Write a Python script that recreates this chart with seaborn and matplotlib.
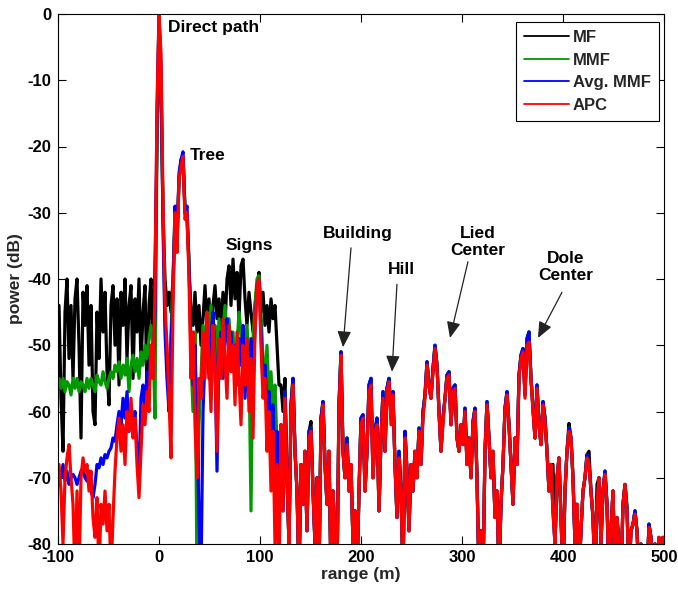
import numpy as np
import pandas as pd
import matplotlib
matplotlib.use("Agg")
import matplotlib.pyplot as plt
from matplotlib.lines import Line2D
import seaborn as sns

# ---------------- data ----------------
series_names = ["MF", "MMF", "Avg. MMF", "APC"]
series_colors = ["#000000", "#009900", "#0000ff", "#ff0000"]

# near region, range about -99 .. 119 m (111 samples)
mf_near = [
    -44, -58, -66, -45, -40, -52, -44, -55, -43, -40,
    -50, -64, -42, -47, -41, -53, -44, -60, -62, -45,
    -52, -40, -48, -42, -54, -59, -44, -41, -50, -43,
    -56, -42, -47, -40, -52, -44, -41, -55, -43, -48,
    -40, -53, -45, -41, -57, -44, -40, -52, -38, -20,
    -0.5, -12, -30, -40, -44, -42, -45, -40, -31, -34,
    -25, -22, -21.5, -30, -31, -38, -45, -47, -42, -48,
    -44, -50, -46, -41, -47, -43, -49, -44, -41, -46,
    -43, -48, -42, -47, -40, -38, -44, -37, -43, -39,
    -46, -38, -37, -43, -47, -42, -45, -48, -44, -41,
    -39, -45, -42, -47, -44, -48, -43, -46, -44, -50,
    -56,
]
mmf_near = [
    -55, -56.5, -55, -57, -55.5, -56, -57.5, -55, -56.5, -55,
    -57, -55.5, -56, -57, -55, -56.5, -55, -56, -57, -54.5,
    -55.5, -56, -54, -55.5, -56.5, -55, -54, -55, -53, -54,
    -52.5, -55, -53, -54.5, -52, -57, -53, -51.5, -54, -52,
    -55, -51, -53, -50, -52, -49, -47, -50, -61, -18,
    -0.3, -10, -30, -46, -52, -58, -48, -40, -30, -34,
    -25, -22.5, -21.5, -29, -30, -37, -52, -60, -48, -85,
    -62, -55, -47, -52, -45, -49, -44, -50, -47, -53,
    -46, -51, -48, -44, -49, -46, -51, -48, -53, -50,
    -45, -48, -56, -50, -47, -52, -75, -49, -44, -40,
    -39.5, -45, -52, -55, -50, -58, -54, -60, -56, -65,
    -70,
]
avg_near = [
    -69, -70, -68, -70.5, -69, -71, -70, -69.5, -70, -71,
    -70, -69, -68.5, -70, -70.5, -69, -72, -73, -71, -68,
    -68.5, -67, -68, -66.5, -67, -66, -65.5, -64, -64.5, -62,
    -60, -62, -58, -61, -57, -63, -59, -62, -60, -66,
    -70, -58, -56, -60, -54, -57, -50, -54, -45, -15,
    -0.2, -8, -32, -48, -55, -60, -50, -42, -29, -35,
    -24, -22, -20.8, -30, -29, -38, -50, -56, -50, -62,
    -76, -85, -60, -52, -47, -55, -49, -45, -52, -69,
    -51, -48, -55, -49, -46, -52, -48, -54, -50, -56,
    -49, -53, -47, -58, -51, -55, -49, -53, -48, -41,
    -40, -48, -56, -53, -60, -57, -64, -59, -70, -63,
    -78,
]
apc_near = [
    -68, -72, -80, -70, -67, -65, -70, -74, -85, -72,
    -85, -70, -67, -69, -68, -72, -69, -76, -79, -73,
    -85, -74, -77, -72, -78, -74, -85, -76, -69, -64,
    -61, -66, -62, -68, -60, -63, -58, -64, -61, -68,
    -73, -66, -59, -62, -57, -60, -50, -55, -42, -14,
    0, -6, -28, -44, -50, -58, -67, -44, -30, -36,
    -25, -23, -21.5, -31, -30, -40, -55, -48, -62, -70,
    -55, -58, -48, -55, -45, -52, -60, -47, -53, -66,
    -49, -55, -46, -52, -58, -47, -54, -50, -59, -48,
    -55, -62, -50, -56, -49, -60, -52, -64, -48, -41,
    -40, -50, -58, -55, -66, -60, -72, -63, -80, -68,
    -85,
]

# far region, range about 121 .. 499 m (192 samples)
far_mf = [
    -56, -60, -55, -70, -80, -59, -55, -66, -72, -85,
    -68, -74, -66, -78, -63, -61.5, -72, -80, -70, -85,
    -61, -58.5, -68, -74, -66, -85, -72, -79, -85, -59,
    -51, -66, -70, -64, -72, -68, -80, -75, -85, -72,
    -61, -60.5, -72, -66, -56, -55, -70, -63, -61, -75,
    -64, -57, -66, -56.5, -55, -61, -57, -68, -76, -66,
    -72, -85, -63, -69, -78, -68, -72, -66, -70, -62.5,
    -68, -60, -57.5, -52.5, -56, -58, -53.5, -50, -53, -60,
    -66, -61, -58, -54.5, -54, -62, -56.5, -56, -64, -66,
    -62, -65, -59.5, -68, -64, -70, -61.5, -59.5, -70, -85,
    -78, -85, -66, -58.5, -64, -70, -66, -76, -72, -85,
    -74, -68, -59.5, -57, -62, -68, -74, -64, -68, -54.5,
    -51.5, -50.5, -57.5, -49, -48, -55, -59.5, -64, -56, -62,
    -65, -58.5, -61, -66, -72, -68, -68, -80, -70, -67,
    -76, -85, -72, -66, -61.8, -64, -70, -80, -74, -85,
    -78, -72, -70, -66.5, -66, -72, -76, -85, -71, -70,
    -80, -72, -69, -74, -85, -78, -72, -85, -76, -80,
    -85, -74, -71, -74.5, -85, -78, -77, -75, -78, -85,
    -80, -85, -82, -85, -77, -79, -85, -80, -85, -79,
    -82, -79,
]
far_mmf = [
    -62, -75, -57, -70, -80, -59, -55, -66, -72, -85,
    -68, -74, -66, -78, -63, -62.5, -72, -80, -70, -85,
    -61, -58.5, -68, -74, -66, -85, -72, -79, -85, -59,
    -51, -66, -70, -64, -72, -68, -80, -75, -85, -72,
    -61, -60.5, -72, -66, -56, -55, -70, -63, -61, -75,
    -64, -57, -66, -56.5, -55, -61, -57, -68, -76, -66,
    -72, -85, -63, -69, -78, -68, -72, -66, -70, -62.5,
    -68, -60, -57.5, -52.5, -56, -58, -53.5, -50, -53, -60,
    -66, -61, -58, -54.5, -54, -62, -56.5, -56, -64, -66,
    -62, -65, -59.5, -68, -64, -70, -61.5, -59.5, -70, -85,
    -78, -85, -66, -58.5, -64, -70, -66, -76, -72, -85,
    -74, -68, -59.5, -57, -62, -68, -74, -64, -68, -54.5,
    -51.5, -50.5, -57.5, -49, -48, -55, -59.5, -64, -56, -62,
    -65, -58.5, -61, -66, -72, -68, -75, -80, -70, -67,
    -76, -85, -72, -66, -62.5, -64, -70, -80, -74, -85,
    -78, -72, -70, -66.5, -68, -72, -76, -85, -74, -70,
    -80, -72, -69, -74, -85, -78, -72, -85, -76, -80,
    -85, -74, -71, -74.5, -85, -78, -77, -75, -78, -85,
    -80, -85, -82, -85, -77, -79, -85, -80, -85, -79,
    -82, -79,
]
far_apc = [
    -62, -75, -58, -70, -80, -60, -56, -66, -72, -85,
    -68, -74, -66, -78, -64, -63, -72, -80, -70, -85,
    -62, -59, -68, -74, -66, -85, -72, -79, -85, -60,
    -51.5, -66, -70, -65, -72, -68, -80, -75, -85, -72,
    -62, -61, -72, -66, -57, -56, -70, -63, -62, -75,
    -64, -58, -66, -57, -55.5, -62, -57.5, -68, -76, -67,
    -72, -85, -64, -69, -78, -68, -72, -66, -70, -63,
    -68, -61, -58, -53, -56, -58, -54, -50.5, -53, -60,
    -66, -62, -58, -55, -54.5, -62, -57, -56.5, -64, -66,
    -62, -65, -60, -68, -64, -70, -62, -60, -70, -85,
    -78, -85, -66, -59, -64, -70, -66, -76, -72, -85,
    -74, -68, -60, -57.5, -62, -68, -74, -64, -68, -55,
    -52, -51, -58, -50, -49.5, -55, -60, -64, -56.5, -62,
    -65, -59, -61.5, -66, -72, -68, -75, -80, -70, -67,
    -76, -85, -72, -66, -63, -64, -70, -80, -74, -85,
    -78, -72, -70, -67, -68, -72, -76, -85, -74, -70,
    -80, -72, -69.5, -74, -85, -78, -72, -85, -76, -80,
    -85, -74, -71, -75, -85, -78, -77, -75.5, -78, -85,
    -80, -85, -82, -85, -77.5, -79, -85, -80, -85, -79,
    -82, -79,
]

range_first, range_last = -99.0, 499.0

x_ticks = [-100, 0, 100, 200, 300, 400, 500]
y_ticks = [-80, -70, -60, -50, -40, -30, -20, -10, 0]

# annotation texts
labels_txt = ["Direct path", "Tree", "Signs", "Building", "Hill", "Lied\nCenter", "Dole\nCenter"]
labels_x = [8.9, 30.7, 66.3, 197.0, 239.6, 315.8, 403.0]
labels_y = [-2.0, -21.4, -34.9, -33.1, -38.6, -34.4, -38.2]
labels_ha = ["left", "left", "left", "center", "center", "center", "center"]

arrow_from = [(190.1, -35.3), (235.6, -40.8), (305.9, -37.4), (399.0, -42.0)]
arrow_to = [(182.2, -50.3), (230.7, -54.0), (288.1, -48.9), (375.2, -48.9)]

# ---------------- build table ----------------
series_values = {
    "MF": mf_near + far_mf,
    "MMF": mmf_near + far_mmf,
    "Avg. MMF": avg_near + far_mmf,
    "APC": apc_near + far_apc,
}
frames = []
for name in series_names:
    vals = np.asarray(series_values[name], dtype=float)
    rng = np.linspace(range_first, range_last, len(vals))
    frames.append(pd.DataFrame({"range": rng, "power": vals, "series": name}))
df = pd.concat(frames, ignore_index=True)

# ---------------- style ----------------
sns.set_style("ticks")
plt.rcParams["font.family"] = ["Liberation Sans", "DejaVu Sans"]
plt.rcParams["font.weight"] = "bold"
plt.rcParams["axes.labelweight"] = "bold"
plt.rcParams["axes.unicode_minus"] = False

W, H = 678, 590
fig = plt.figure(figsize=(W / 100, H / 100), dpi=100)
left, right, top, bottom = 58, 664, 14, 544
ax = fig.add_axes([left / W, 1 - bottom / H, (right - left) / W, (bottom - top) / H])

sns.lineplot(data=df, x="range", y="power", hue="series", hue_order=series_names,
             palette=series_colors, estimator=None, sort=False, linewidth=2.3,
             legend=False, ax=ax)

ax.set_xlim(-100, 500)
ax.set_ylim(-80, 0)
ax.set_xticks(x_ticks)
ax.set_yticks(y_ticks)
ax.tick_params(direction="in", length=5.5, width=0.8, top=True, right=True,
               labelsize=12, colors="black")
ax.tick_params(axis="x", pad=4)
ax.tick_params(axis="y", pad=5)
for sp in ax.spines.values():
    sp.set_visible(True)
    sp.set_color("black")
    sp.set_linewidth(0.8)

ax.set_xlabel("range (m)", fontsize=12.5, fontweight="bold", labelpad=2)
ax.set_ylabel("power (dB)", fontsize=12.5, fontweight="bold", labelpad=3)

for t, x, y, ha in zip(labels_txt, labels_x, labels_y, labels_ha):
    ax.text(x, y, t, ha=ha, va="center", fontsize=12.5, fontweight="bold",
            linespacing=1.15, color="black")

for (x0, y0), (x1, y1) in zip(arrow_from, arrow_to):
    ax.annotate("", xy=(x1, y1), xytext=(x0, y0),
                arrowprops=dict(arrowstyle="-|>,head_length=0.7,head_width=0.3",
                                color="#222222", lw=0.9, mutation_scale=14,
                                shrinkA=0, shrinkB=0))

handles = [Line2D([], [], color=c, linewidth=1.3) for c in series_colors]
leg = ax.legend(handles, series_names, loc="upper right",
                bbox_to_anchor=(1 - 5 / (right - left), 1 - 8 / (bottom - top)),
                borderaxespad=0, frameon=True, fancybox=False, framealpha=1,
                edgecolor="black", handlelength=2.7, handletextpad=0.2,
                labelspacing=0.45, borderpad=0.5,
                prop={"weight": "bold", "size": 12})
leg.get_frame().set_linewidth(0.8)

fig.savefig("out.png", dpi=100)
